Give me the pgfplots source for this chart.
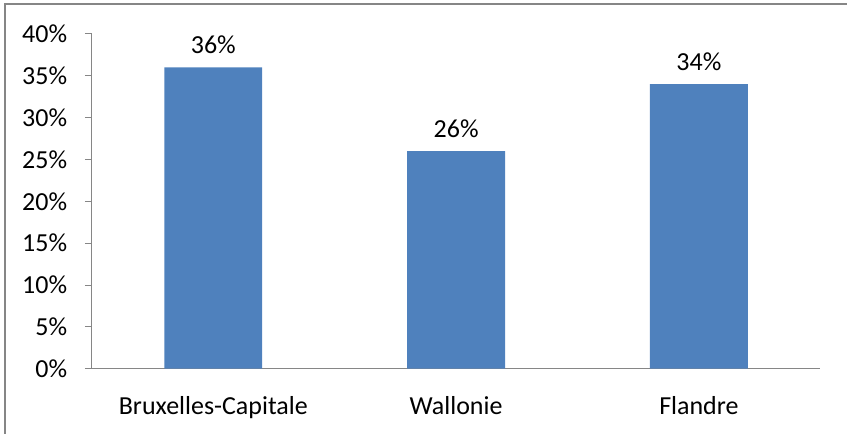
\documentclass[border=0pt]{standalone}
\usepackage{fontspec}
\setmainfont{Carlito}
\usepackage{pgfplots}
\pgfplotsset{compat=1.18}
\definecolor{barblue}{HTML}{4F81BD}
\definecolor{axgray}{HTML}{868686}
\begin{document}
\fontsize{26bp}{30bp}\selectfont
\begin{tikzpicture}
\begin{axis}[
  scale only axis,
  width=729bp, height=335bp,
  xmin=-0.5, xmax=2.5,
  ymin=0, ymax=40,
  axis lines*=left,
  axis line style={axgray, line width=1bp},
  xtick={0,1,2},
  xticklabels={Bruxelles-Capitale,Wallonie,Flandre},
  x tick label style={yshift=-12bp},
  major x tick style={draw=none},
  extra x ticks={-0.5,0.5,1.5,2.5},
  extra x tick labels={},
  extra x tick style={tick style={axgray, line width=1bp}, major tick length=8bp, tick align=outside},
  ytick={0,5,...,40},
  yticklabel={\pgfmathprintnumber{\tick}\%},
  y tick style={axgray, line width=1bp},
  major tick length=7bp,
  tick align=outside,
  ytick pos=left,
  y tick label style={xshift=-9bp},
  /pgf/number format/assume math mode=true,
  tick label style={font=\fontsize{26bp}{30bp}\selectfont},
  ybar, bar width=0.403,
  nodes near coords={\pgfmathprintnumber{\pgfplotspointmeta}\%},
  nodes near coords style={font=\fontsize{26bp}{30bp}\selectfont, yshift=5bp},
  clip=false,
]
\addplot[fill=barblue, draw=none] coordinates {(0,36) (1,26) (2,34)};
\draw[axgray, line width=1.5bp] (rel axis cs:-0.1193,-0.1940) -- (rel axis cs:-0.1193,1.0896) -- (rel axis cs:1.0370,1.0896);
\path (rel axis cs:-0.1262,-0.1940) rectangle (rel axis cs:1.0370,1.1015);
\end{axis}
\end{tikzpicture}
\end{document}
